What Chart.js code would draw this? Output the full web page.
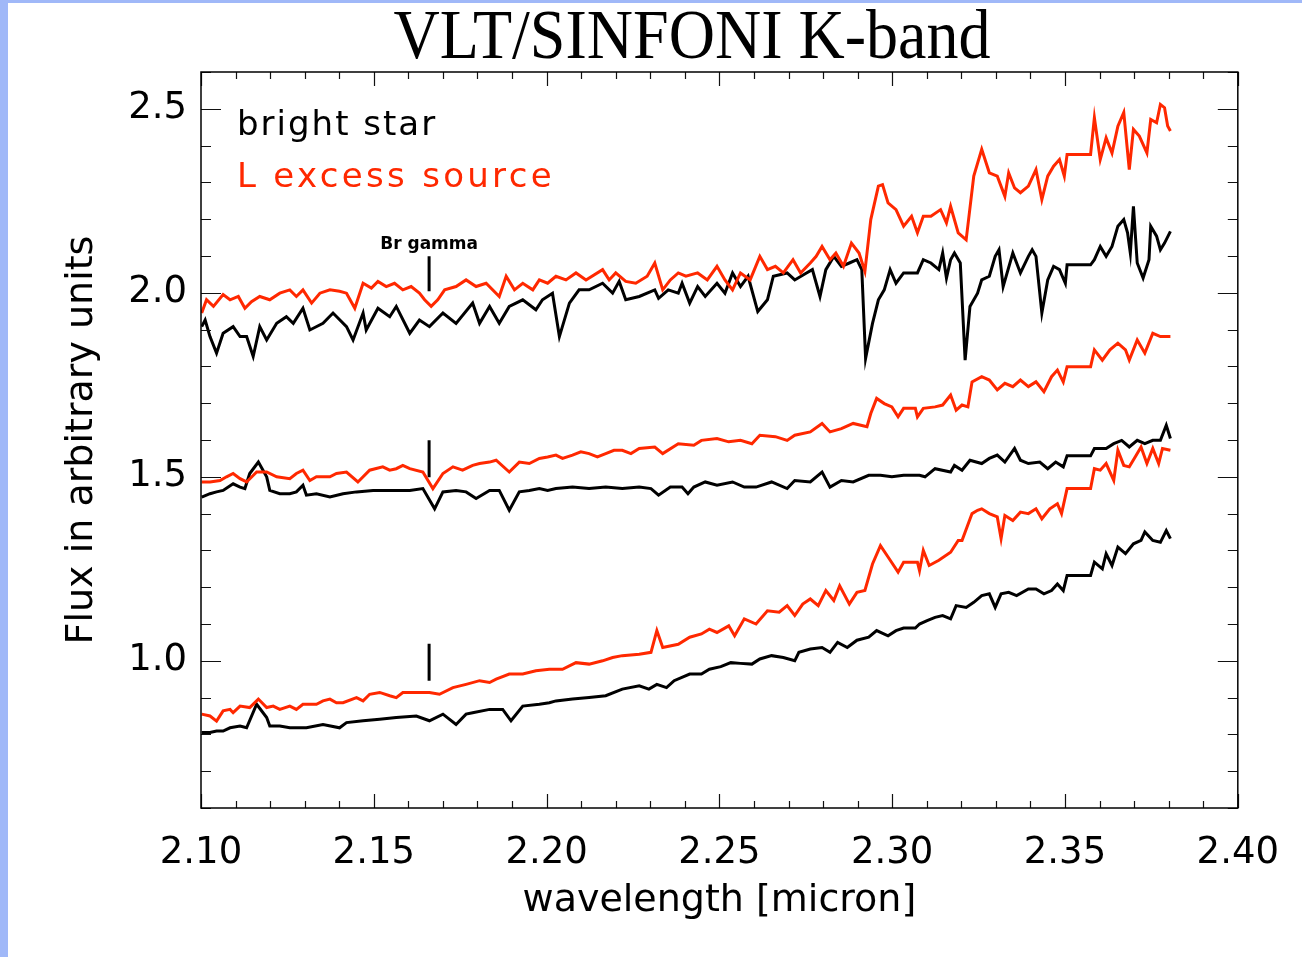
<!DOCTYPE html>
<html>
<head>
<meta charset="utf-8">
<script src="https://cdn.jsdelivr.net/npm/chart.js@4.4.1/dist/chart.umd.min.js"></script>
<style>
html,body{margin:0;padding:0;background:#fff;}
#wrap{position:relative;width:1302px;height:957px;overflow:hidden;background:#fff;}
#c{position:absolute;left:0;top:0;}
#title{position:absolute;top:0;left:692px;white-space:nowrap;font-family:"Liberation Serif","Times New Roman",serif;font-size:70px;line-height:70px;color:#000;transform:translateX(-50%) scaleX(0.915);}
.stripL{position:absolute;left:0;top:0;width:8px;height:957px;background:#a0b8f8;}
.stripT{position:absolute;left:0;top:0;width:1302px;height:3px;background:#a0b8f8;}
</style>
</head>
<body>
<div id="wrap">
<canvas id="c" width="1302" height="957"></canvas>
<div id="title">VLT/SINFONI K-band</div>
<div class="stripL"></div>
<div class="stripT"></div>
</div>
<script>
// ---------------- data (wavelength [micron], flux) ----------------
const xTickLabels = [2.10, 2.15, 2.20, 2.25, 2.30, 2.35, 2.40];
const yTickLabels = [1.0, 1.5, 2.0, 2.5];
const seriesNames = ['bright star', 'L excess source'];
const brGammaLabel = 'Br gamma';
const brGammaWl = 2.1660;
const brGammaMarks = [[2.004, 2.099], [1.499, 1.599], [0.946, 1.046]];

const brightStarTop = [[2.1002,1.908],[2.1012,1.926],[2.1026,1.881],[2.1045,1.836],[2.1064,1.890],[2.1093,1.908],[2.1113,1.881],[2.1132,1.881],[2.1151,1.827],[2.1170,1.908],[2.1190,1.872],[2.1219,1.917],[2.1247,1.935],[2.1267,1.917],[2.1295,1.958],[2.1315,1.899],[2.1353,1.917],[2.1382,1.945],[2.1421,1.908],[2.1440,1.872],[2.1469,1.945],[2.1478,1.899],[2.1512,1.958],[2.1546,1.935],[2.1565,1.963],[2.1604,1.890],[2.1632,1.926],[2.1661,1.908],[2.1700,1.945],[2.1738,1.917],[2.1786,1.972],[2.1806,1.917],[2.1835,1.963],[2.1863,1.917],[2.1892,1.963],[2.1931,1.981],[2.1969,1.954],[2.1988,1.981],[2.2017,1.999],[2.2037,1.881],[2.2066,1.972],[2.2094,2.008],[2.2123,2.008],[2.2162,2.026],[2.2191,1.999],[2.2210,2.031],[2.2229,1.981],[2.2268,1.990],[2.2313,2.008],[2.2324,1.985],[2.2352,2.008],[2.2381,1.999],[2.2392,2.026],[2.2414,1.972],[2.2437,2.017],[2.2459,1.990],[2.2493,2.026],[2.2516,1.999],[2.2538,2.054],[2.2561,2.017],[2.2583,2.045],[2.2611,1.949],[2.2639,1.981],[2.2656,2.045],[2.2696,2.054],[2.2718,2.035],[2.2752,2.054],[2.2769,2.063],[2.2791,1.990],[2.2808,2.063],[2.2831,2.099],[2.2853,2.072],[2.2876,2.081],[2.2898,2.090],[2.2912,2.063],[2.2923,1.822],[2.2943,1.917],[2.2960,1.981],[2.2977,2.008],[2.2994,2.063],[2.3011,2.026],[2.3033,2.054],[2.3073,2.054],[2.3090,2.090],[2.3112,2.081],[2.3135,2.063],[2.3146,2.108],[2.3157,2.040],[2.3169,2.090],[2.3180,2.108],[2.3197,2.081],[2.3211,1.817],[2.3225,1.963],[2.3247,1.999],[2.3259,2.035],[2.3281,2.045],[2.3298,2.099],[2.3309,2.117],[2.3321,2.017],[2.3349,2.108],[2.3371,2.054],[2.3394,2.099],[2.3405,2.117],[2.3416,2.099],[2.3433,1.945],[2.3450,2.035],[2.3467,2.072],[2.3484,2.063],[2.3501,2.026],[2.3506,2.076],[2.3574,2.076],[2.3585,2.090],[2.3602,2.126],[2.3619,2.099],[2.3636,2.126],[2.3653,2.181],[2.3670,2.199],[2.3681,2.163],[2.3689,2.108],[2.3698,2.235],[2.3709,2.081],[2.3726,2.040],[2.3743,2.090],[2.3748,2.181],[2.3765,2.154],[2.3776,2.117],[2.3788,2.135],[2.3805,2.167]];

const lExcessTop = [[2.1002,1.945],[2.1016,1.981],[2.1036,1.963],[2.1064,1.995],[2.1084,1.981],[2.1108,1.990],[2.1127,1.958],[2.1146,1.976],[2.1170,1.990],[2.1199,1.981],[2.1228,1.999],[2.1257,2.008],[2.1276,1.990],[2.1295,2.008],[2.1320,1.972],[2.1344,1.999],[2.1373,2.008],[2.1401,2.004],[2.1421,1.999],[2.1445,1.958],[2.1469,2.026],[2.1493,2.013],[2.1512,2.031],[2.1536,2.017],[2.1560,2.026],[2.1584,2.008],[2.1608,2.017],[2.1632,1.999],[2.1647,1.981],[2.1666,1.963],[2.1685,1.981],[2.1705,2.008],[2.1738,2.017],[2.1767,2.035],[2.1796,2.017],[2.1825,2.026],[2.1863,1.990],[2.1883,2.045],[2.1907,2.008],[2.1931,2.026],[2.1960,2.008],[2.1979,2.035],[2.2003,2.026],[2.2027,2.045],[2.2056,2.035],[2.2085,2.054],[2.2114,2.035],[2.2162,2.063],[2.2181,2.035],[2.2200,2.054],[2.2229,2.031],[2.2258,2.026],[2.2291,2.045],[2.2313,2.081],[2.2336,2.008],[2.2358,2.035],[2.2381,2.054],[2.2403,2.045],[2.2437,2.054],[2.2465,2.035],[2.2493,2.072],[2.2516,2.035],[2.2538,2.008],[2.2561,2.054],[2.2589,2.035],[2.2617,2.099],[2.2639,2.063],[2.2662,2.072],[2.2685,2.054],[2.2713,2.090],[2.2735,2.054],[2.2763,2.081],[2.2780,2.099],[2.2797,2.126],[2.2820,2.090],[2.2837,2.108],[2.2859,2.072],[2.2882,2.135],[2.2904,2.108],[2.2921,2.058],[2.2938,2.199],[2.2960,2.290],[2.2972,2.294],[2.2988,2.244],[2.3011,2.226],[2.3033,2.181],[2.3056,2.208],[2.3073,2.163],[2.3090,2.208],[2.3112,2.208],[2.3140,2.226],[2.3157,2.190],[2.3169,2.235],[2.3191,2.163],[2.3214,2.144],[2.3236,2.317],[2.3259,2.390],[2.3281,2.326],[2.3304,2.317],[2.3326,2.262],[2.3337,2.326],[2.3354,2.285],[2.3371,2.272],[2.3394,2.290],[2.3416,2.335],[2.3433,2.253],[2.3450,2.317],[2.3467,2.344],[2.3484,2.362],[2.3498,2.317],[2.3506,2.376],[2.3574,2.376],[2.3585,2.476],[2.3602,2.362],[2.3619,2.421],[2.3636,2.380],[2.3653,2.453],[2.3670,2.490],[2.3686,2.335],[2.3698,2.444],[2.3715,2.426],[2.3737,2.380],[2.3748,2.471],[2.3765,2.462],[2.3776,2.512],[2.3788,2.503],[2.3797,2.453],[2.3805,2.440]];

const brightStarMid = [[2.1002,1.445],[2.1026,1.454],[2.1045,1.459],[2.1064,1.463],[2.1093,1.481],[2.1113,1.472],[2.1127,1.468],[2.1141,1.509],[2.1166,1.540],[2.1190,1.500],[2.1199,1.463],[2.1228,1.454],[2.1257,1.454],[2.1276,1.459],[2.1295,1.477],[2.1305,1.450],[2.1334,1.454],[2.1373,1.445],[2.1411,1.454],[2.1450,1.459],[2.1498,1.463],[2.1546,1.463],[2.1604,1.463],[2.1642,1.468],[2.1676,1.413],[2.1700,1.459],[2.1738,1.463],[2.1767,1.459],[2.1796,1.441],[2.1835,1.463],[2.1863,1.463],[2.1892,1.409],[2.1921,1.459],[2.1950,1.463],[2.1979,1.468],[2.2003,1.463],[2.2027,1.468],[2.2075,1.472],[2.2123,1.468],[2.2171,1.472],[2.2219,1.468],[2.2268,1.472],[2.2302,1.468],[2.2324,1.450],[2.2358,1.472],[2.2392,1.472],[2.2409,1.454],[2.2426,1.472],[2.2459,1.486],[2.2493,1.477],[2.2538,1.486],[2.2572,1.472],[2.2606,1.472],[2.2651,1.486],[2.2696,1.468],[2.2718,1.490],[2.2763,1.486],[2.2797,1.513],[2.2820,1.472],[2.2853,1.490],[2.2887,1.486],[2.2932,1.504],[2.2966,1.504],[2.2999,1.500],[2.3033,1.504],[2.3079,1.504],[2.3095,1.500],[2.3124,1.522],[2.3169,1.513],[2.3180,1.531],[2.3202,1.518],[2.3225,1.545],[2.3259,1.536],[2.3281,1.550],[2.3304,1.559],[2.3326,1.540],[2.3354,1.577],[2.3371,1.545],[2.3394,1.536],[2.3427,1.540],[2.3450,1.522],[2.3473,1.540],[2.3495,1.527],[2.3506,1.557],[2.3574,1.557],[2.3585,1.577],[2.3619,1.577],[2.3641,1.590],[2.3664,1.599],[2.3686,1.581],[2.3709,1.599],[2.3731,1.590],[2.3754,1.599],[2.3776,1.599],[2.3793,1.640],[2.3805,1.604]];

const lExcessMid = [[2.1002,1.486],[2.1026,1.486],[2.1055,1.490],[2.1074,1.500],[2.1093,1.509],[2.1113,1.495],[2.1132,1.486],[2.1161,1.513],[2.1190,1.513],[2.1219,1.500],[2.1257,1.495],[2.1276,1.509],[2.1295,1.518],[2.1315,1.490],[2.1334,1.500],[2.1373,1.500],[2.1392,1.509],[2.1421,1.513],[2.1454,1.486],[2.1488,1.518],[2.1526,1.527],[2.1546,1.518],[2.1565,1.522],[2.1584,1.531],[2.1604,1.522],[2.1642,1.513],[2.1671,1.468],[2.1700,1.509],[2.1729,1.527],[2.1757,1.518],[2.1786,1.531],[2.1806,1.536],[2.1835,1.540],[2.1854,1.545],[2.1892,1.513],[2.1921,1.540],[2.1950,1.536],[2.1979,1.550],[2.2003,1.554],[2.2027,1.559],[2.2046,1.550],[2.2075,1.559],[2.2099,1.568],[2.2123,1.563],[2.2147,1.554],[2.2171,1.563],[2.2195,1.572],[2.2219,1.572],[2.2244,1.563],[2.2268,1.577],[2.2313,1.581],[2.2336,1.563],[2.2381,1.590],[2.2426,1.586],[2.2448,1.599],[2.2493,1.604],[2.2527,1.595],[2.2561,1.599],[2.2594,1.590],[2.2617,1.613],[2.2662,1.609],[2.2696,1.599],[2.2718,1.613],[2.2763,1.622],[2.2797,1.645],[2.2820,1.622],[2.2853,1.631],[2.2887,1.645],[2.2927,1.636],[2.2938,1.672],[2.2955,1.713],[2.2977,1.699],[2.2999,1.690],[2.3017,1.663],[2.3033,1.686],[2.3067,1.686],[2.3073,1.663],[2.3090,1.686],[2.3124,1.690],[2.3146,1.695],[2.3169,1.722],[2.3185,1.681],[2.3202,1.695],[2.3219,1.690],[2.3231,1.758],[2.3259,1.772],[2.3281,1.763],[2.3304,1.736],[2.3326,1.754],[2.3349,1.745],[2.3371,1.763],[2.3394,1.745],[2.3416,1.758],[2.3439,1.731],[2.3461,1.772],[2.3478,1.790],[2.3495,1.758],[2.3506,1.799],[2.3574,1.799],[2.3585,1.845],[2.3608,1.817],[2.3630,1.845],[2.3653,1.863],[2.3675,1.845],[2.3686,1.817],[2.3709,1.872],[2.3731,1.836],[2.3754,1.890],[2.3776,1.881],[2.3805,1.881]];

const brightStarLow = [[2.1002,0.805],[2.1026,0.805],[2.1045,0.809],[2.1064,0.809],[2.1084,0.818],[2.1113,0.823],[2.1132,0.818],[2.1161,0.882],[2.1190,0.846],[2.1199,0.823],[2.1228,0.823],[2.1257,0.818],[2.1305,0.818],[2.1353,0.827],[2.1401,0.818],[2.1421,0.832],[2.1469,0.837],[2.1517,0.841],[2.1565,0.846],[2.1623,0.850],[2.1661,0.837],[2.1700,0.855],[2.1738,0.827],[2.1767,0.855],[2.1786,0.859],[2.1835,0.868],[2.1873,0.868],[2.1897,0.837],[2.1931,0.877],[2.1979,0.882],[2.2008,0.886],[2.2027,0.891],[2.2075,0.896],[2.2123,0.900],[2.2171,0.905],[2.2219,0.923],[2.2268,0.932],[2.2296,0.923],[2.2319,0.936],[2.2347,0.927],[2.2369,0.946],[2.2414,0.964],[2.2448,0.964],[2.2471,0.977],[2.2504,0.984],[2.2533,0.995],[2.2561,0.993],[2.2594,0.991],[2.2617,1.005],[2.2651,1.014],[2.2685,1.009],[2.2718,1.000],[2.2730,1.023],[2.2763,1.032],[2.2797,1.036],[2.2820,1.023],[2.2842,1.050],[2.2870,1.036],[2.2898,1.056],[2.2932,1.064],[2.2955,1.082],[2.2988,1.068],[2.3011,1.082],[2.3033,1.089],[2.3067,1.089],[2.3079,1.100],[2.3101,1.109],[2.3124,1.118],[2.3146,1.123],[2.3169,1.114],[2.3185,1.150],[2.3214,1.145],[2.3236,1.159],[2.3259,1.177],[2.3281,1.182],[2.3298,1.145],[2.3315,1.182],[2.3337,1.186],[2.3360,1.177],[2.3394,1.195],[2.3416,1.195],[2.3439,1.182],[2.3461,1.191],[2.3478,1.209],[2.3495,1.191],[2.3506,1.232],[2.3574,1.232],[2.3585,1.268],[2.3608,1.250],[2.3619,1.291],[2.3636,1.259],[2.3653,1.309],[2.3675,1.291],[2.3698,1.318],[2.3720,1.327],[2.3731,1.350],[2.3754,1.327],[2.3776,1.322],[2.3793,1.354],[2.3805,1.332]];

const lExcessLow = [[2.1002,0.855],[2.1026,0.850],[2.1045,0.836],[2.1064,0.864],[2.1084,0.868],[2.1093,0.859],[2.1113,0.877],[2.1141,0.873],[2.1166,0.896],[2.1190,0.873],[2.1209,0.877],[2.1228,0.868],[2.1257,0.877],[2.1276,0.868],[2.1295,0.882],[2.1334,0.882],[2.1353,0.891],[2.1373,0.896],[2.1392,0.886],[2.1411,0.886],[2.1450,0.900],[2.1469,0.891],[2.1488,0.909],[2.1517,0.914],[2.1546,0.905],[2.1565,0.900],[2.1584,0.914],[2.1623,0.914],[2.1661,0.914],[2.1690,0.909],[2.1729,0.927],[2.1767,0.936],[2.1806,0.946],[2.1835,0.941],[2.1854,0.950],[2.1892,0.964],[2.1931,0.964],[2.1969,0.973],[2.2008,0.977],[2.2046,0.977],[2.2085,0.995],[2.2123,0.991],[2.2162,1.000],[2.2191,1.009],[2.2219,1.014],[2.2268,1.018],[2.2302,1.023],[2.2319,1.082],[2.2336,1.036],[2.2381,1.045],[2.2414,1.064],[2.2448,1.073],[2.2471,1.086],[2.2493,1.077],[2.2527,1.095],[2.2544,1.068],[2.2572,1.114],[2.2606,1.100],[2.2639,1.136],[2.2673,1.132],[2.2696,1.150],[2.2718,1.123],[2.2741,1.154],[2.2763,1.168],[2.2786,1.150],[2.2808,1.191],[2.2831,1.164],[2.2848,1.204],[2.2876,1.154],[2.2898,1.186],[2.2921,1.191],[2.2943,1.263],[2.2966,1.313],[2.2988,1.282],[2.3017,1.241],[2.3033,1.268],[2.3073,1.268],[2.3079,1.245],[2.3090,1.300],[2.3107,1.259],[2.3135,1.273],[2.3169,1.295],[2.3191,1.327],[2.3202,1.327],[2.3231,1.400],[2.3247,1.409],[2.3259,1.413],[2.3281,1.400],[2.3304,1.391],[2.3315,1.332],[2.3326,1.395],[2.3349,1.381],[2.3371,1.404],[2.3394,1.400],[2.3416,1.413],[2.3433,1.386],[2.3456,1.413],[2.3478,1.427],[2.3490,1.400],[2.3506,1.468],[2.3574,1.468],[2.3585,1.522],[2.3602,1.518],[2.3619,1.536],[2.3641,1.490],[2.3653,1.572],[2.3670,1.531],[2.3686,1.527],[2.3703,1.554],[2.3720,1.581],[2.3737,1.536],[2.3754,1.577],[2.3771,1.536],[2.3782,1.577],[2.3805,1.572]];

// ---------------- styling ----------------
const BLACK = '#000000';
const RED = '#ff2800';
const FONT = '"DejaVu Sans", "Liberation Sans", sans-serif';

const toPoints = pairs => pairs.map(p => ({x: p[0], y: p[1]}));
const lineDs = (label, pairs, color, order) => ({
  label, data: toPoints(pairs), borderColor: color, backgroundColor: color,
  borderWidth: 3, pointRadius: 0, tension: 0, fill: false, order
});

const datasets = [
  lineDs('L excess source', lExcessTop, RED, 0),
  lineDs('L excess source', lExcessMid, RED, 0),
  lineDs('L excess source', lExcessLow, RED, 0),
  lineDs('bright star', brightStarTop, BLACK, 1),
  lineDs('bright star', brightStarMid, BLACK, 1),
  lineDs('bright star', brightStarLow, BLACK, 1)
];
brGammaMarks.forEach(m => {
  datasets.push(lineDs('Br gamma', [[brGammaWl, m[0]], [brGammaWl, m[1]]], BLACK, 2));
});

// IDL-style frame with inward ticks on all four sides
const idlFrame = {
  id: 'idlFrame',
  afterDatasetsDraw(chart) {
    const {ctx, chartArea: a, scales: {x, y}} = chart;
    ctx.save();
    ctx.strokeStyle = '#111';
    ctx.lineWidth = 1.2;
    ctx.beginPath();
    for (let i = 0; i <= 30; i++) {
      const v = 2.10 + i * 0.01;
      const px = Math.round(x.getPixelForValue(v)) + 0.5;
      const len = (i % 5 === 0) ? 14 : 7;
      ctx.moveTo(px, a.bottom); ctx.lineTo(px, a.bottom - len);
      ctx.moveTo(px, a.top); ctx.lineTo(px, a.top + len);
    }
    for (let i = 0; i <= 20; i++) {
      const v = 0.6 + i * 0.1;
      const py = Math.round(y.getPixelForValue(v)) + 0.5;
      const major = (i % 5 === 4);
      const len = major ? 20 : 10;
      ctx.moveTo(a.left, py); ctx.lineTo(a.left + len, py);
      ctx.moveTo(a.right, py); ctx.lineTo(a.right - len, py);
    }
    ctx.stroke();
    ctx.lineWidth = 1.5;
    ctx.strokeStyle = '#000';
    ctx.strokeRect(a.left, a.top, a.right - a.left, a.bottom - a.top);
    ctx.restore();
  },
  afterDraw(chart) {
    const {ctx, chartArea: a, scales: {x}} = chart;
    ctx.save();
    ctx.textAlign = 'left';
    ctx.textBaseline = 'alphabetic';
    ctx.font = '34px ' + FONT;
    const hasLS = ('letterSpacing' in ctx);
    if (hasLS) ctx.letterSpacing = '2px';
    ctx.fillStyle = BLACK;
    ctx.fillText(seriesNames[0], a.left + 36, a.top + 63);
    if (hasLS) ctx.letterSpacing = '3.3px';
    ctx.fillStyle = RED;
    ctx.fillText(seriesNames[1], a.left + 36, a.top + 115);
    if (hasLS) ctx.letterSpacing = '0px';
    ctx.fillStyle = BLACK;
    ctx.font = 'bold 17px ' + FONT;
    ctx.textAlign = 'center';
    ctx.fillText(brGammaLabel, x.getPixelForValue(brGammaWl), a.top + 177);
    ctx.restore();
  }
};

Chart.defaults.color = '#000';

new Chart(document.getElementById('c'), {
  type: 'line',
  data: {datasets},
  options: {
    responsive: false,
    devicePixelRatio: 1,
    animation: false,
    events: [],
    layout: {padding: {left: 0, right: 62, top: 72, bottom: 0}},
    plugins: {legend: {display: false}, tooltip: {enabled: false}, title: {display: false}},
    scales: {
      x: {
        type: 'linear', min: 2.10, max: 2.40,
        grid: {display: false, drawTicks: false},
        border: {display: false},
        afterBuildTicks: s => { s.ticks = xTickLabels.map(v => ({value: v})); },
        afterFit: s => { s.height = 149; },
        ticks: {
          autoSkip: false, maxRotation: 0, minRotation: 0, padding: 23,
          font: {family: FONT, size: 37},
          callback: v => Number(v).toFixed(2)
        },
        title: {display: true, text: 'wavelength [micron]', font: {family: FONT, size: 38}, padding: {top: 0, bottom: 33}}
      },
      y: {
        type: 'linear', min: 0.6, max: 2.6,
        grid: {display: false, drawTicks: false},
        border: {display: false},
        afterBuildTicks: s => { s.ticks = yTickLabels.map(v => ({value: v})); },
        afterFit: s => { s.width = 201; },
        ticks: {
          autoSkip: false, padding: 14,
          font: {family: FONT, size: 37},
          callback: v => Number(v).toFixed(1)
        },
        title: {display: true, text: 'Flux in arbitrary units', font: {family: FONT, size: 38}, padding: {top: 59, bottom: 0}}
      }
    }
  },
  plugins: [idlFrame]
});
</script>
</body>
</html>
